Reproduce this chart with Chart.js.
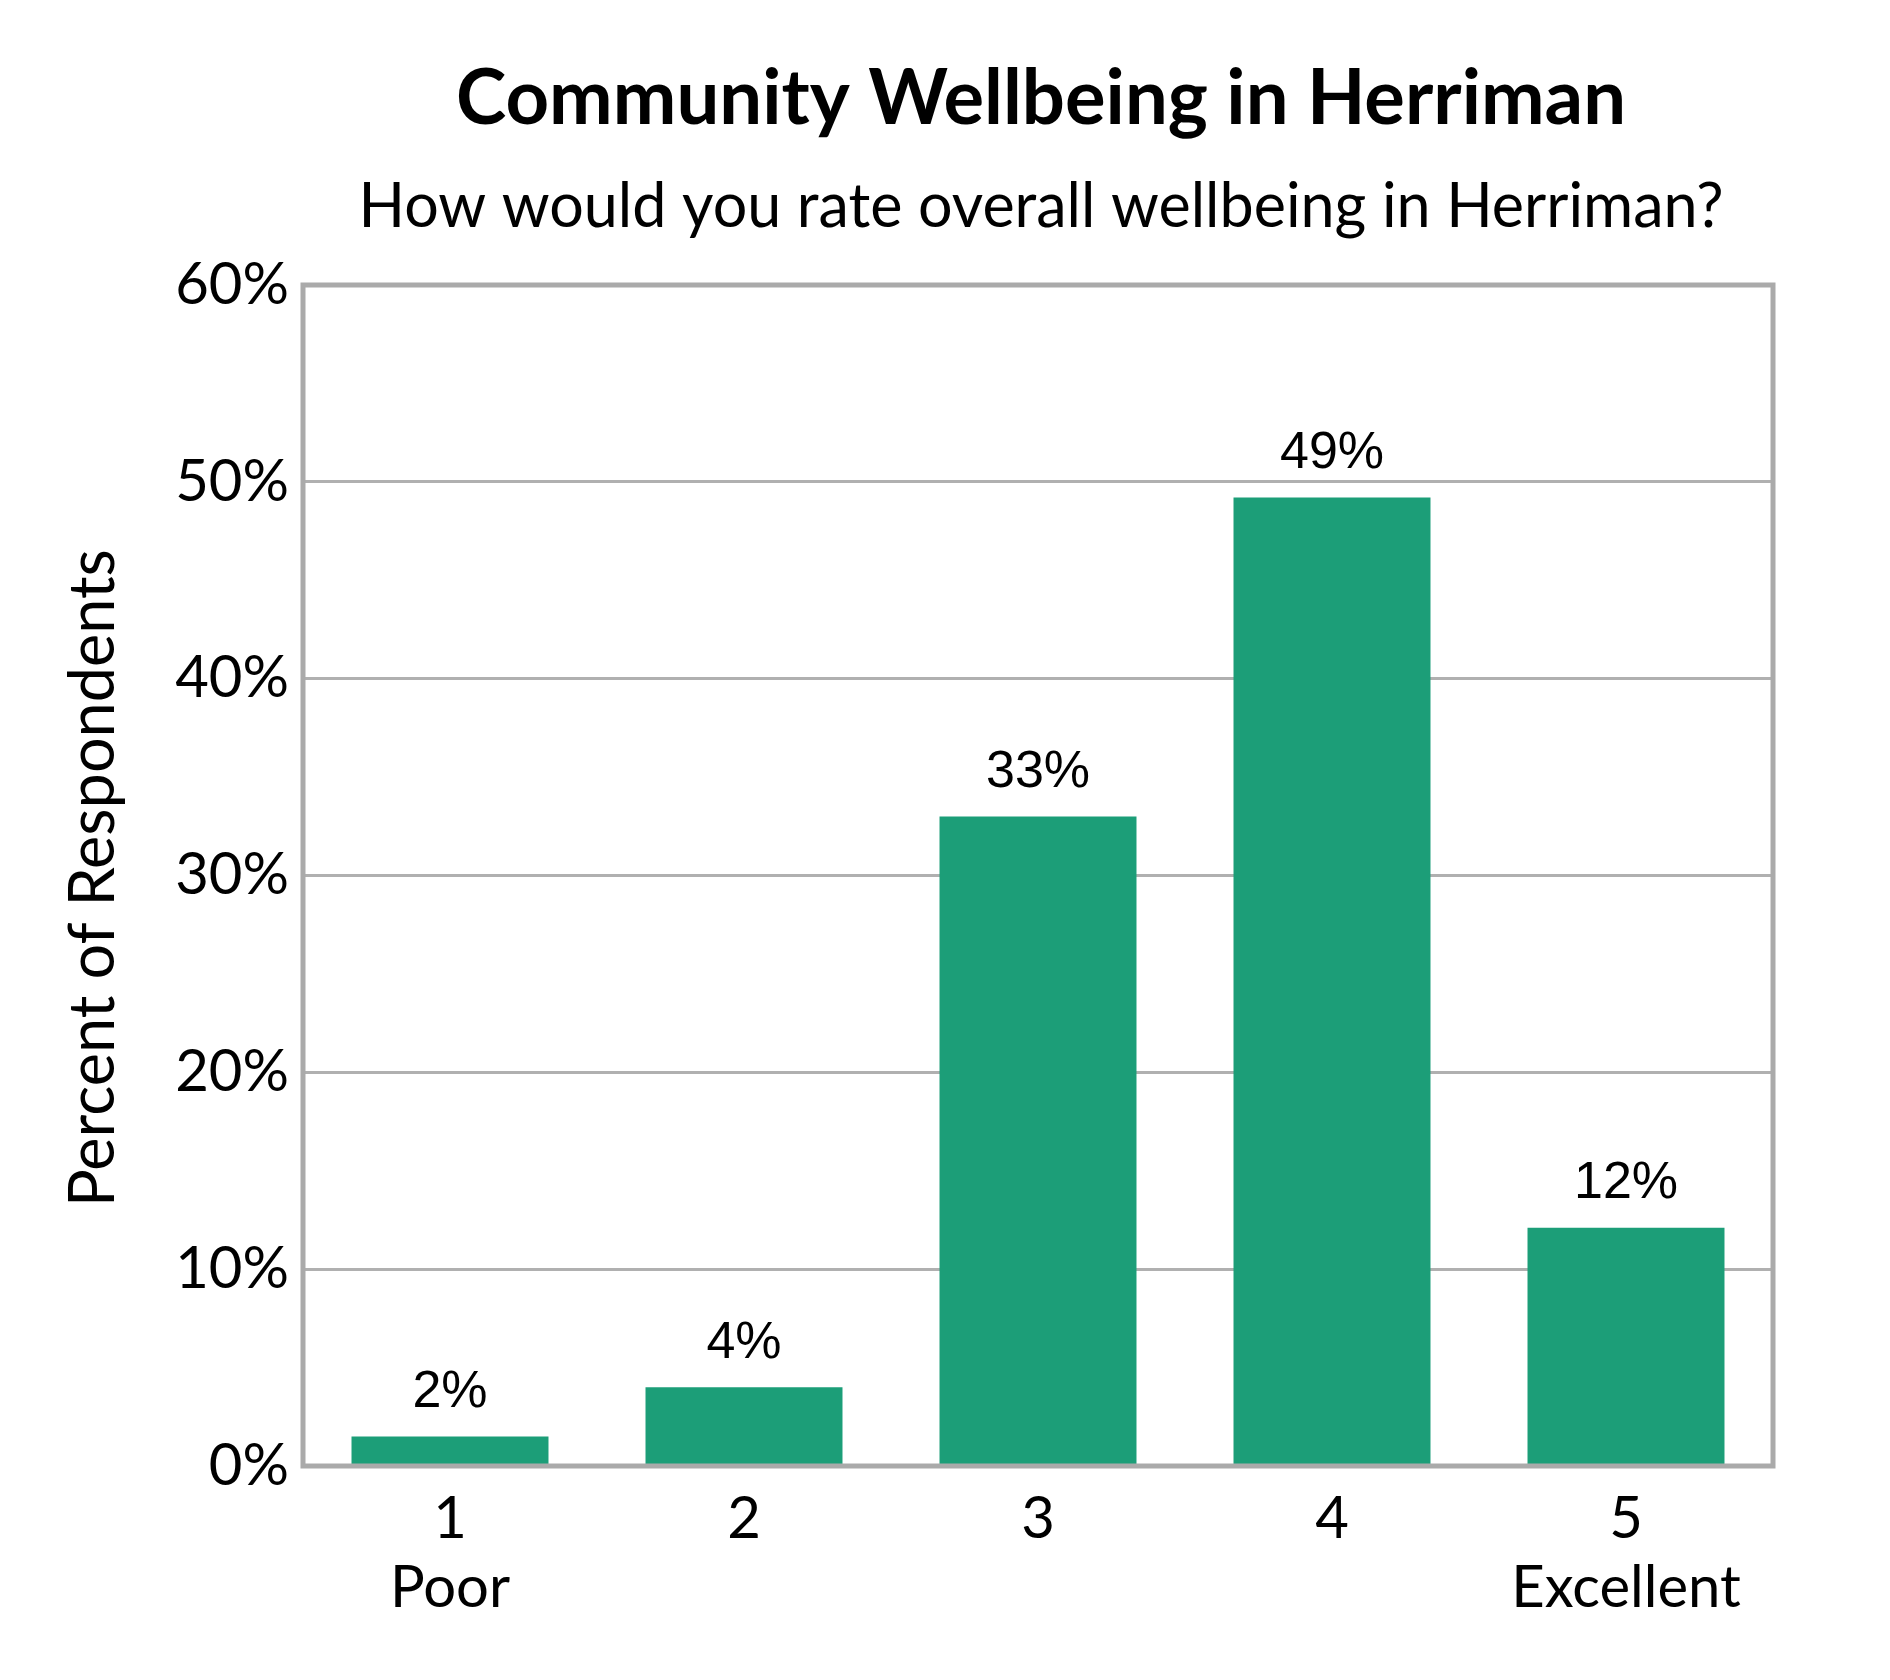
<!DOCTYPE html>
<html lang="en">
<head>
    <meta charset="UTF-8">
    <title>Community Wellbeing in Herriman</title>
    <script src="https://cdn.jsdelivr.net/npm/chart.js@4.4.0/dist/chart.umd.min.js"></script>
    <style>
        body { margin: 0; background: #fff; }
    </style>
</head>
<body>
    <canvas id="myChart" width="1890" height="1680"></canvas>

    <script>
        const categories = [['1', 'Poor'], ['2'], ['3'], ['4'], ['5', 'Excellent']];
        const percents = [1.5, 4, 33, 49.2, 12.1];
        const valueLabels = ['2%', '4%', '33%', '49%', '12%'];
        const yTicks = [0, 10, 20, 30, 40, 50, 60];

        const FONT = 'Lato, "Open Sans", sans-serif';

        const textPlugin = {
            id: 'texts',
            afterDraw(chart) {
                const c = chart.ctx;
                const a = chart.chartArea;
                c.save();
                // frame
                c.strokeStyle = '#aaaaaa';
                c.lineWidth = 5;
                c.strokeRect(a.left, a.top, a.right - a.left, a.bottom - a.top);
                // titles
                c.fillStyle = '#000';
                c.textAlign = 'center';
                c.textBaseline = 'middle';
                c.font = 'bold 76px ' + FONT;
                c.fillText('Community Wellbeing in Herriman', 1041, 99);
                c.font = '61px ' + FONT;
                c.fillText('How would you rate overall wellbeing in Herriman?', 1041, 207);
                // y title
                c.save();
                c.translate(94, 878);
                c.rotate(-Math.PI / 2);
                c.font = '63px ' + FONT;
                c.fillText('Percent of Respondents', 0, 0);
                c.restore();
                // value labels
                c.font = '52px "Liberation Sans", Arial, sans-serif';
                c.textBaseline = 'bottom';
                chart.getDatasetMeta(0).data.forEach((bar, i) => {
                    c.fillText(valueLabels[i], bar.x, bar.y - 18);
                });
                c.restore();
            }
        };

        const ctx = document.getElementById('myChart').getContext('2d');
        const myChart = new Chart(ctx, {
            type: 'bar',
            data: {
                labels: categories,
                datasets: [{
                    data: percents,
                    backgroundColor: '#1c9e78',
                    barPercentage: 0.67,
                    categoryPercentage: 1
                }]
            },
            options: {
                responsive: false,
                animation: false,
                layout: { padding: { top: 285, right: 117, left: 0, bottom: 0 } },
                plugins: { legend: { display: false }, tooltip: { enabled: false } },
                scales: {
                    x: {
                        grid: { display: false },
                        border: { display: false },
                        ticks: { color: '#000', font: { family: FONT, size: 58 }, padding: 10 },
                        afterFit(s) { s.height = 214; }
                    },
                    y: {
                        min: 0,
                        max: 60,
                        afterBuildTicks(s) { s.ticks = yTicks.map(v => ({ value: v })); },
                        grid: { color: '#b0b0b0', lineWidth: 3, drawTicks: false },
                        border: { display: false },
                        ticks: {
                            color: '#000',
                            font: { family: FONT, size: 58 },
                            padding: 14,
                            callback: v => v + '%'
                        },
                        afterFit(s) { s.width = 303; }
                    }
                }
            },
            plugins: [textPlugin]
        });
    </script>
</body>
</html>
